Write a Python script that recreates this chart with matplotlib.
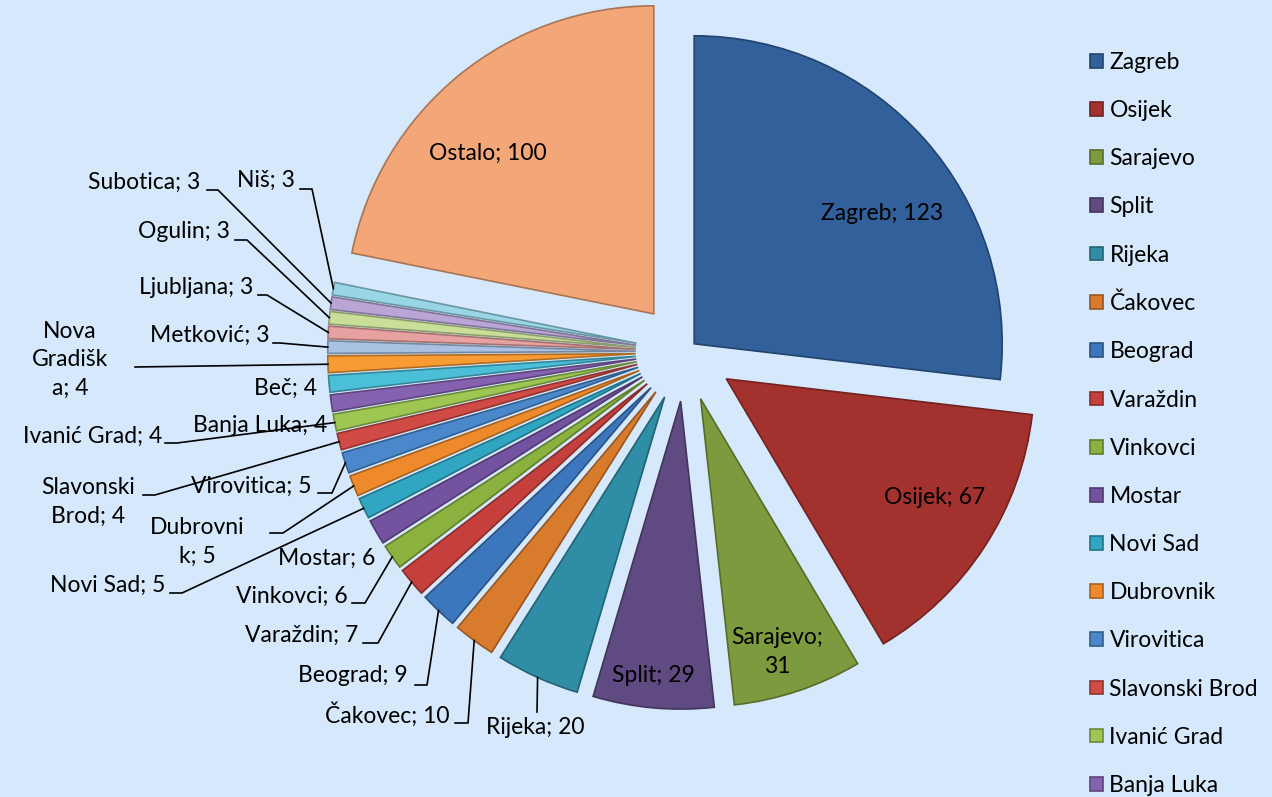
import math
import matplotlib.pyplot as plt
import matplotlib.colors as mcolors

plt.rcParams['font.family'] = ['Lato', 'DejaVu Sans']

# --- data -------------------------------------------------------------
cities = ['Zagreb', 'Osijek', 'Sarajevo', 'Split', 'Rijeka', 'Čakovec',
          'Beograd', 'Varaždin', 'Vinkovci', 'Mostar', 'Novi Sad',
          'Dubrovnik', 'Virovitica', 'Slavonski Brod', 'Ivanić Grad',
          'Banja Luka', 'Beč', 'Nova Gradiška', 'Metković', 'Ljubljana',
          'Ogulin', 'Subotica', 'Niš', 'Ostalo']
counts = [123, 67, 31, 29, 20, 10, 9, 7, 6, 6, 5, 5, 5, 4, 4, 4, 4, 4,
          3, 3, 3, 3, 3, 100]

# --- style ------------------------------------------------------------
slice_colors = ['#31609B', '#A3312E', '#7D9B3E', '#5F4A82', '#2F8EA5',
                '#D97B2C', '#3C77BD', '#C5403D', '#8BB23F', '#7352A0',
                '#31A6C2', '#EF8A2C', '#4A88CB', '#D04A46', '#9DC652',
                '#8562B0', '#4BBFD7', '#F89B33', '#A9C1E3', '#E7A1A0',
                '#C9DF99', '#B9A6D6', '#98D6E6', '#F3A677']
BG = '#D5E8FC'
W, H = 1272, 797
R_PX = 308                 # pie radius in pixels
CENTER_PX = (685, 352)
FONT = 16.5
LEGEND_ROWS = 16           # the legend box only has room for these


def px(x, y):
    """pixel position (top-left origin) -> data coords (radius = 1)"""
    return x / R_PX, (H - y) / R_PX


def darker(c, f=0.7):
    r, g, b = mcolors.to_rgb(c)
    return (r * f, g * f, b * f)


def wrap(text, breaks):
    parts, last = [], 0
    for b in breaks:
        parts.append(text[last:b].strip())
        last = b
    parts.append(text[last:].strip())
    return '\n'.join(parts)


explode = [0.04 if c == 'Zagreb' else 0.16 for c in cities]

# where Excel wrapped the label text (character index)
wraps = {'Sarajevo': [9], 'Dubrovnik': [8], 'Slavonski Brod': [9],
         'Nova Gradiška': [4, 12]}

# label placement in pixels: (x, y, ha, leader points after anchor)
inside = {
    'Zagreb': (882, 213), 'Osijek': (935, 498), 'Sarajevo': (777, 652),
    'Split': (653, 676), 'Ostalo': (488, 153),
}
outside = {
    'Rijeka': (535, 728, 'center', [(537, 712)]),
    'Čakovec': (450, 715, 'right', [(468, 723), (455, 723)]),
    'Beograd': (408, 676, 'right', [(427, 685), (415, 685)]),
    'Varaždin': (358, 635, 'right', [(378, 643), (363, 643)]),
    'Vinkovci': (348, 596, 'right', [(365, 603), (352, 603)]),
    'Mostar': (375, 558, 'right', []),
    'Novi Sad': (165, 585, 'right', [(182, 593), (170, 593)]),
    'Dubrovnik': (197, 542, 'center', [(283, 533), (270, 533)]),
    'Virovitica': (312, 486, 'right', [(332, 493), (318, 493)]),
    'Slavonski Brod': (88, 502, 'center', [(155, 495), (143, 495)]),
    'Ivanić Grad': (162, 436, 'right', [(177, 443), (165, 443)]),
    'Banja Luka': (327, 426, 'right', []),
    'Beč': (317, 388, 'right', []),
    'Nova Gradiška': (70, 360, 'center', [(135, 367)]),
    'Metković': (270, 335, 'right', [(280, 343), (273, 343)]),
    'Ljubljana': (253, 288, 'right', [(267, 295), (258, 295)]),
    'Ogulin': (230, 232, 'right', [(247, 240), (235, 240)]),
    'Subotica': (200, 182, 'right', [(218, 190), (207, 190)]),
    'Niš': (295, 180, 'right', [(312, 189), (300, 189)]),
}

fig = plt.figure(figsize=(W / 100, H / 100), dpi=100)
fig.patch.set_facecolor(BG)
ax = fig.add_axes([0, 0, 1, 1])
ax.set_facecolor(BG)

wedges, _ = ax.pie(counts, explode=explode, colors=slice_colors,
                   startangle=90, counterclock=False, radius=1,
                   center=px(*CENTER_PX),
                   wedgeprops=dict(linewidth=1.2))
for w, c in zip(wedges, slice_colors):
    w.set_edgecolor(darker(c))

ax.set_xlim(0, W / R_PX)
ax.set_ylim(0, H / R_PX)
ax.set_aspect('auto')
ax.axis('off')

for w, city, n in zip(wedges, cities, counts):
    text = f'{city}; {n}'
    if city in wraps:
        text = wrap(text, wraps[city])
    if city in inside:
        x, y = inside[city]
        ax.text(*px(x, y), text, ha='center', va='center', fontsize=FONT,
                linespacing=1.42)
        continue
    x, y, ha, pts = outside[city]
    ax.text(*px(x, y), text, ha=ha, va='center', fontsize=FONT,
            linespacing=1.42)
    if pts:
        mid = math.radians((w.theta1 + w.theta2) / 2)
        cx, cy = w.center
        xs = [cx + w.r * math.cos(mid)] + [px(*p)[0] for p in pts]
        ys = [cy + w.r * math.sin(mid)] + [px(*p)[1] for p in pts]
        ax.plot(xs, ys, color='black', lw=1.2)

fig.legend(handles=wedges[:LEGEND_ROWS], labels=cities[:LEGEND_ROWS],
           loc='upper left', bbox_to_anchor=(1090 / W, 1 - 52 / H),
           frameon=False, fontsize=FONT, handlelength=0.55,
           handleheight=0.55, handletextpad=0.3, labelspacing=1.185,
           borderpad=0, borderaxespad=0)

fig.savefig('out.png', dpi=100, facecolor=BG)
